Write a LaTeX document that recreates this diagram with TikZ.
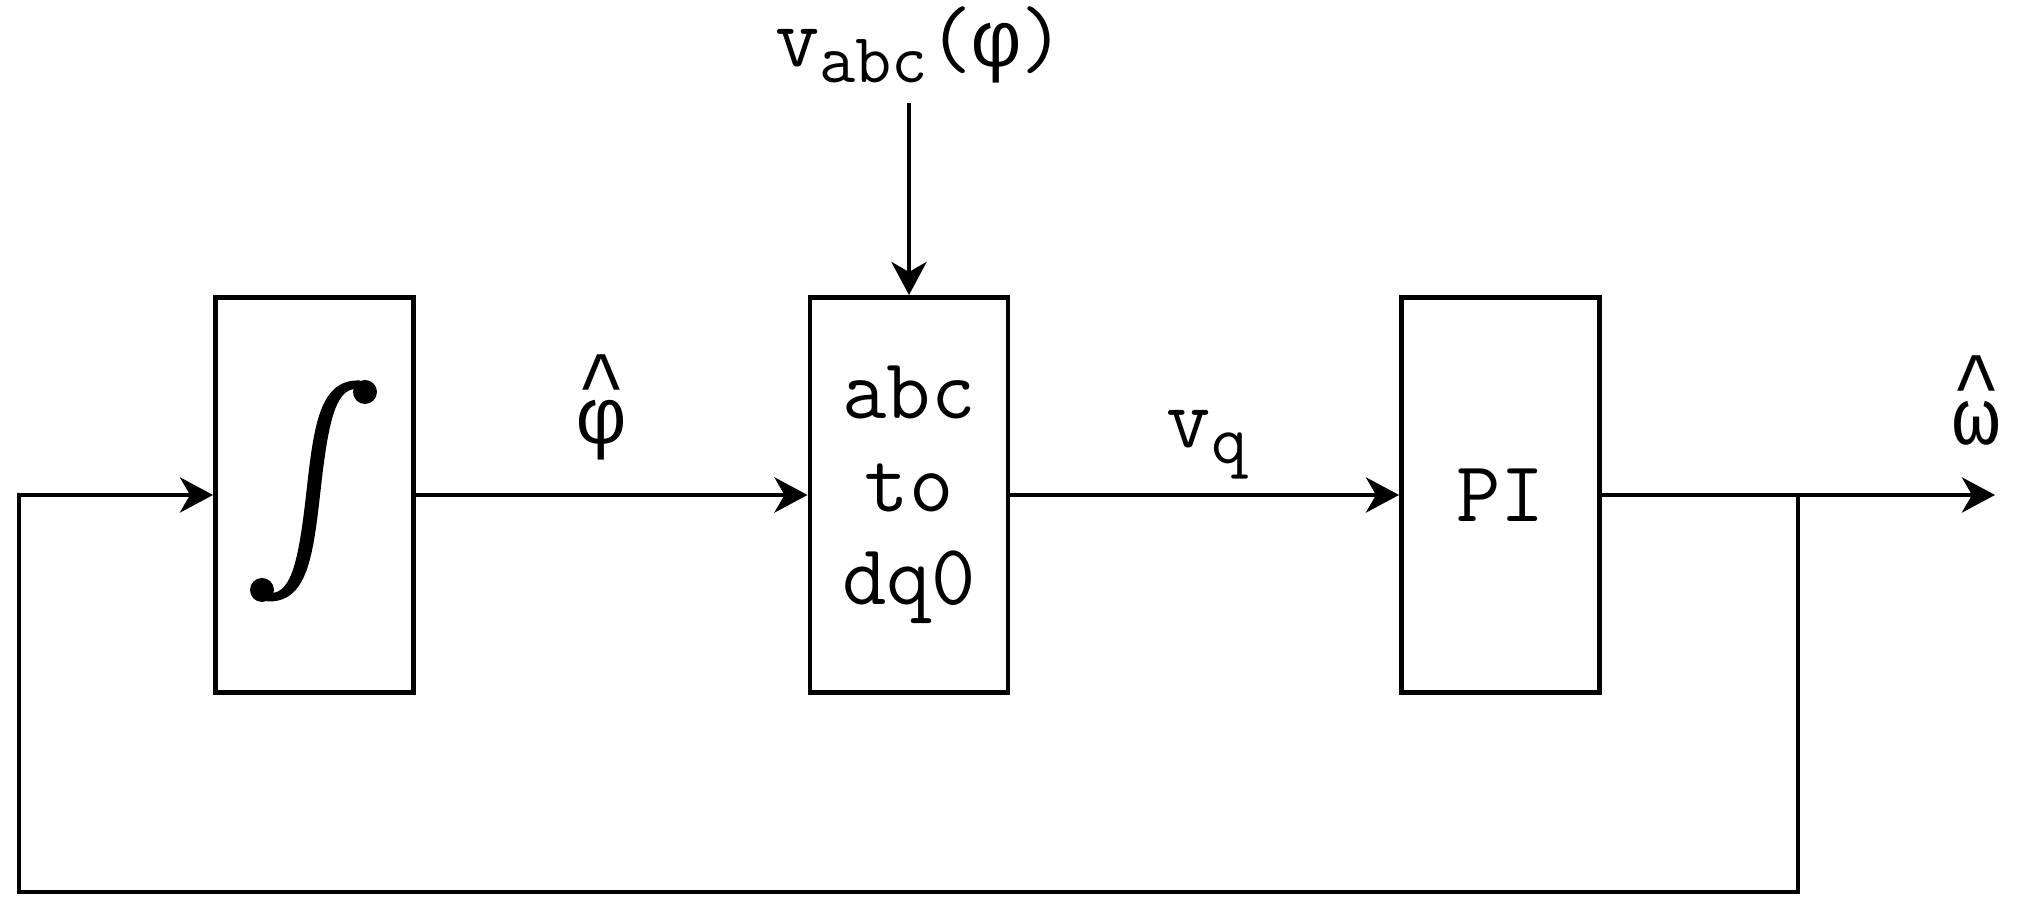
\documentclass[tikz,border=0pt]{standalone}
\usepackage{fontspec}
\newfontfamily\greek{Liberation Mono}[Scale=0.93]
\usetikzlibrary{arrows.meta}
\newcommand{\monohat}[1]{{\greek\rlap{\raisebox{0.45em}{\textasciicircum}}#1}}
\newcommand{\subtxt}[1]{{\fontsize{20}{22}\selectfont\raisebox{-4.4pt}{#1}}}

\begin{document}
\begin{tikzpicture}[
		blk/.style={draw, line width=1.4pt, minimum width=1.98cm, minimum height=3.95cm, inner sep=0pt, align=center},
		sig/.style={line width=1.4pt, -{Stealth[length=3.3mm, width=3.5mm, inset=1mm]}},
		wire/.style={line width=1.4pt},
		lbl/.style={anchor=base, inner sep=0pt},
		font=\ttfamily\fontsize{24.5}{26.5}\selectfont]
		\useasboundingbox (0,0) rectangle (20.17,9.19);
		\node[blk] (int) at (3.145,4.24) {};
		\node[blk] (abc) at (9.09,4.24) {abc\\to\\dq0};
		\node[blk] (pi) at (15.005,4.24) {PI};
		\coordinate (vin) at (9.09,8.16);
		\coordinate (br) at (17.98,4.24);
		\coordinate (out) at (19.95,4.24);
		\coordinate (bl) at (0.19,0.27);
		\fill (2.71,3.26) .. controls (2.92,3.26) and (2.99,3.61) .. (3.065,4.28) .. controls (3.14,4.95) and (3.20,5.40) .. (3.60,5.385) -- (3.56,5.30) .. controls (3.35,5.30) and (3.28,4.95) .. (3.205,4.28) .. controls (3.13,3.61) and (3.07,3.16) .. (2.67,3.175) -- cycle;
		\fill (3.65,5.27) circle (0.12) (2.62,3.29) circle (0.12);
		\node[lbl] (vabc) at (9.20,8.52) {v\subtxt{abc}({\greek φ})};
		\node[lbl] (phihat) at (6.02,4.75) {\monohat{φ}};
		\node[lbl] (vq) at (12.07,4.71) {v\subtxt{q}};
		\node[lbl] (omhat) at (19.77,4.74) {\monohat{ω}};
		\draw[sig] (vin) -- (abc);
		\draw[sig] (int) -- (abc);
		\draw[sig] (abc) -- (pi);
		\draw[wire] (pi) -- (br);
		\draw[sig] (br) -- (out);
		\draw[sig] (br) |- (bl) |- (int);
	\end{tikzpicture}
\end{document}
